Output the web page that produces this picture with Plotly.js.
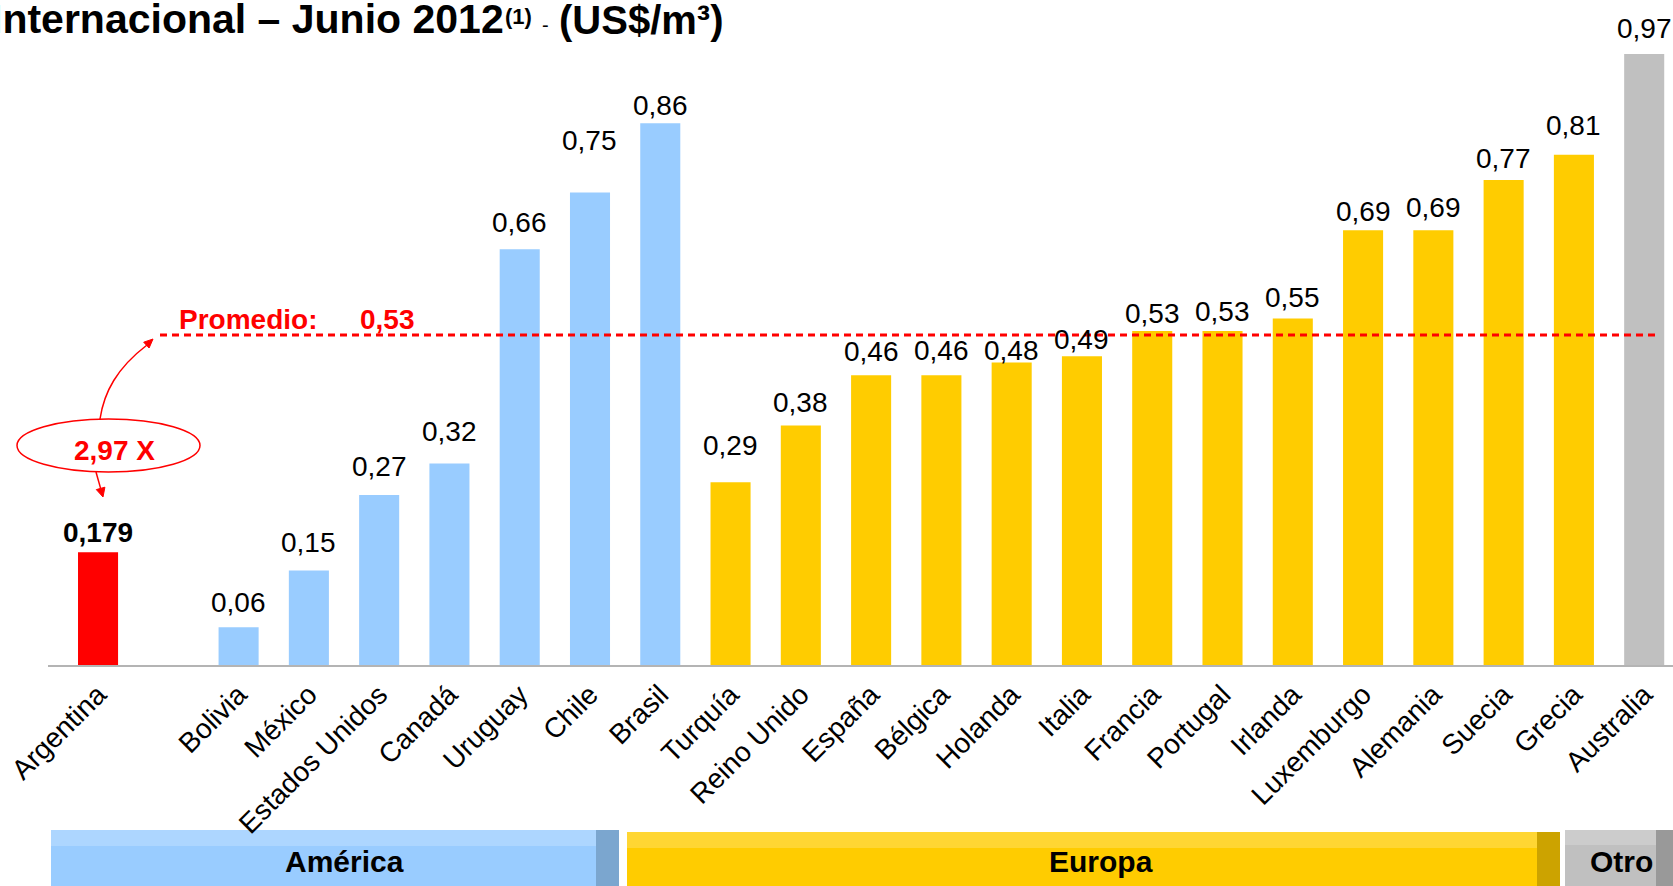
<!DOCTYPE html>
<html>
<head>
<meta charset="utf-8">
<script src="https://cdn.plot.ly/plotly-3.0.1.min.js"></script>
<style>html,body{margin:0;padding:0;background:#fff;}#chart{width:1673px;height:886px;}</style>
</head>
<body>
<div id="chart"></div>
<script>
// ---- data ----
const argentinaCountries = ["Argentina"];
const argentinaValues = [0.179];
const americaCountries = ["Bolivia", "México", "Estados Unidos", "Canadá", "Uruguay", "Chile", "Brasil"];
const americaValues = [0.06, 0.15, 0.27, 0.32, 0.66, 0.75, 0.86];
const europeCountries = ["Turquía", "Reino Unido", "España", "Bélgica", "Holanda", "Italia", "Francia", "Portugal", "Irlanda", "Luxemburgo", "Alemania", "Suecia", "Grecia"];
const europeValues = [0.29, 0.38, 0.46, 0.46, 0.48, 0.49, 0.53, 0.53, 0.55, 0.69, 0.69, 0.77, 0.81];
const otherCountries = ["Australia"];
const otherValues = [0.97];
const averageValue = 0.53;
const averageLabel = "Promedio:";
const ratioLabel = "2,97 X";
const groupNames = ["América", "Europa", "Otro"];
const spacer = " ";

// ---- layout / style (pixel offsets of the value labels, as placed in the original) ----
const argentinaLabelShift = [2];
const americaLabelShift = [7, 11, 11, 14, 9, 35, 0];
const europeLabelShift = [19, 6, 6, 7, -5, -1, 0, 2, 4, 1, 5, 4, 12];
const otherLabelShift = [8];

const W = 1673, H = 886, ML = 48, MB = 221;
const PW = W - ML, PH = H - MB;
const px = x => (x - ML) / PW;
const py = y => (PH - y) / PH;

const categoryOrder = [...argentinaCountries, spacer, ...americaCountries, ...europeCountries, ...otherCountries];
const fmt = (v, d) => v.toFixed(d).replace('.', ',');

function barTrace(x, y, color) {
  return {type: 'bar', x: x, y: y, marker: {color: color}, width: 0.57, hoverinfo: 'x+y', cliponaxis: false};
}
const traces = [
  barTrace(argentinaCountries, argentinaValues, '#FF0000'),
  barTrace(americaCountries, americaValues, '#99CCFF'),
  barTrace(europeCountries, europeValues, '#FFCC00'),
  barTrace(otherCountries, otherValues, '#C0C0C0')
];

const annotations = [];
function addLabels(cs, vs, shifts, dec, bold) {
  cs.forEach((c, i) => {
    annotations.push({
      xref: 'x', yref: 'y', x: c, y: vs[i], yanchor: 'bottom', yshift: shifts[i],
      text: bold ? '<b>' + fmt(vs[i], dec) + '</b>' : fmt(vs[i], dec),
      showarrow: false, font: {size: 28, color: '#000'}
    });
  });
}
addLabels(argentinaCountries, argentinaValues, argentinaLabelShift, 3, true);
addLabels(americaCountries, americaValues, americaLabelShift, 2, false);
addLabels(europeCountries, europeValues, europeLabelShift, 2, false);
addLabels(otherCountries, otherValues, otherLabelShift, 2, false);

// title (left part runs off the page, as in the original)
annotations.push({
  xref: 'paper', yref: 'paper', x: px(-11.4), y: py(19), xanchor: 'left', yanchor: 'middle',
  text: "<b>Internacional – Junio 2012</b>", showarrow: false, font: {size: 41, color: '#000'}
});
annotations.push({
  xref: 'paper', yref: 'paper', x: px(503), y: py(16), xanchor: 'left', yanchor: 'middle',
  text: "<b>(1)</b>", showarrow: false, font: {size: 22, color: '#000'}
});
annotations.push({
  xref: 'paper', yref: 'paper', x: px(545), y: py(25), xanchor: 'center', yanchor: 'middle',
  text: "-", showarrow: false, font: {size: 20, color: '#000'}
});
annotations.push({
  xref: 'paper', yref: 'paper', x: px(557), y: py(20), xanchor: 'left', yanchor: 'middle',
  text: "<b>(US$/m³)</b>", showarrow: false, font: {size: 40, color: '#000'}
});
// average text
annotations.push({
  xref: 'paper', yref: 'paper', x: px(177), y: py(335), xanchor: 'left', yanchor: 'bottom', yshift: -2,
  text: '<b>' + averageLabel + '</b>', showarrow: false, font: {size: 28, color: '#FF0000'}
});
annotations.push({
  xref: 'paper', yref: 'paper', x: px(358), y: py(335), xanchor: 'left', yanchor: 'bottom', yshift: -2,
  text: '<b>' + fmt(averageValue, 2) + '</b>', showarrow: false, font: {size: 28, color: '#FF0000'}
});
// ratio text
annotations.push({
  xref: 'paper', yref: 'paper', x: px(114), y: py(451), xanchor: 'center', yanchor: 'middle',
  text: '<b>' + ratioLabel + '</b>', showarrow: false, font: {size: 28, color: '#FF0000'}
});

const shapes = [];
// average line
shapes.push({type: 'line', xref: 'paper', yref: 'paper', x0: px(160), x1: px(1659), y0: py(335), y1: py(335),
  line: {color: '#FF0000', width: 3, dash: '7px,5px'}});
// ellipse
shapes.push({type: 'circle', xref: 'paper', yref: 'paper', x0: px(17), x1: px(200), y0: py(472), y1: py(419),
  line: {color: '#FF0000', width: 1.5}});
// curved arrow up to the average line
shapes.push({type: 'path', xref: 'paper', yref: 'paper',
  path: `M ${px(100)} ${py(419)} C ${px(104)} ${py(392)} ${px(117)} ${py(368)} ${px(147)} ${py(345)}`,
  line: {color: '#FF0000', width: 1.5}});
shapes.push({type: 'path', xref: 'paper', yref: 'paper',
  path: `M ${px(153)} ${py(339)} L ${px(149.1)} ${py(348)} L ${px(143.7)} ${py(342.2)} Z`,
  fillcolor: '#FF0000', line: {color: '#FF0000', width: 1}});
// arrow down to Argentina
shapes.push({type: 'path', xref: 'paper', yref: 'paper',
  path: `M ${px(96)} ${py(472)} L ${px(100.6)} ${py(488.4)}`,
  line: {color: '#FF0000', width: 1.5}});
shapes.push({type: 'path', xref: 'paper', yref: 'paper',
  path: `M ${px(103)} ${py(497)} L ${px(104.9)} ${py(487.2)} L ${px(96.3)} ${py(489.6)} Z`,
  fillcolor: '#FF0000', line: {color: '#FF0000', width: 1}});

// group boxes at bottom
const groupBoxes = [
  {name: groupNames[0], x0: 51, x1: 619, dark: 596, top: 830, band: 846, main: '#99CCFF', light: '#ADD6FF', darkc: '#7BA6CF', tx: 344},
  {name: groupNames[1], x0: 627, x1: 1560, dark: 1537, top: 832, band: 848, main: '#FFCC00', light: '#FFD633', darkc: '#CCA300', tx: 1101},
  {name: groupNames[2], x0: 1565, x1: 1673, dark: 1656, top: 830, band: 845, main: '#C0C0C0', light: '#CCCCCC', darkc: '#999999', tx: 1621}
];
groupBoxes.forEach(g => {
  shapes.push({type: 'rect', xref: 'paper', yref: 'paper', x0: px(g.x0), x1: px(g.x1), y0: py(H + 2), y1: py(g.top), fillcolor: g.main, line: {width: 0}, layer: 'below'});
  shapes.push({type: 'rect', xref: 'paper', yref: 'paper', x0: px(g.x0), x1: px(g.x1), y0: py(g.band), y1: py(g.top), fillcolor: g.light, line: {width: 0}, layer: 'below'});
  shapes.push({type: 'rect', xref: 'paper', yref: 'paper', x0: px(g.dark), x1: px(g.x1), y0: py(H + 2), y1: py(g.top), fillcolor: g.darkc, line: {width: 0}, layer: 'below'});
  annotations.push({xref: 'paper', yref: 'paper', x: px(g.tx), y: py(862), xanchor: 'center', yanchor: 'middle',
    text: '<b>' + g.name + '</b>', showarrow: false, font: {size: 30, color: '#000'}});
});

const layout = {
  width: W, height: H,
  margin: {l: ML, r: 0, t: 0, b: MB, pad: 0},
  paper_bgcolor: '#fff', plot_bgcolor: '#fff',
  font: {family: 'Liberation Sans, Arial, sans-serif', color: '#000'},
  showlegend: false,
  barmode: 'overlay',
  xaxis: {
    type: 'category', categoryorder: 'array', categoryarray: categoryOrder,
    range: [-0.712, 22.41], tickangle: -45, tickfont: {size: 28, color: '#000'},
    showline: true, linecolor: '#B4B4B4', linewidth: 2, ticks: '', showgrid: false, zeroline: false,
    tickvals: categoryOrder, ticktext: categoryOrder
  },
  yaxis: {range: [0, PH / 630], visible: false, showgrid: false, zeroline: false},
  annotations: annotations,
  shapes: shapes
};

Plotly.newPlot('chart', traces, layout, {displayModeBar: false, staticPlot: true});
</script>
</body>
</html>
